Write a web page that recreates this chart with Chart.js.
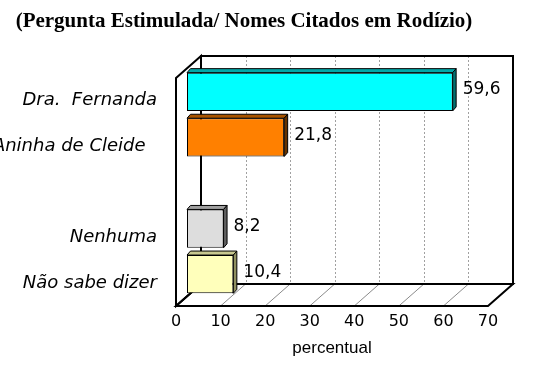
<!DOCTYPE html>
<html>
<head>
<meta charset="utf-8">
<script src="https://cdn.jsdelivr.net/npm/chart.js@4.4.0/dist/chart.umd.min.js"></script>
<style>
  html, body { margin: 0; padding: 0; background: #fff; }
  canvas { display: block; }
</style>
</head>
<body>
<canvas id="myChart" width="538" height="367"></canvas>
<script>
// dados
const categorias = ["Dra.  Fernanda", "Aninha de Cleide  ", "", "Nenhuma", "Não sabe dizer"];
const percentuais = [59.6, 21.8, null, 8.2, 10.4];
const rotulos = ["59,6", "21,8", "", "8,2", "10,4"];
const xMin = 0;
const xMax = 70;
const xPasso = 10;

// cores das faces
const corFrente = ["#00ffff", "#ff8000", "#ffffff", "#dddddd", "#ffffbb"];
const corTopo = ["#00a8a8", "#a85400", "#ffffff", "#a0a0a0", "#c8c890"];
const corLado = ["#007070", "#663300", "#ffffff", "#606060", "#909060"];

const fundo = { dx: 25, dy: -22 };   // profundidade das paredes
const barra = { dx: 11, dy: -9 };    // plano das barras
const face = { dx: 3.5, dy: 4 };     // espessura da barra

function linha(ctx, x1, y1, x2, y2) {
    ctx.beginPath();
    ctx.moveTo(x1, y1);
    ctx.lineTo(x2, y2);
    ctx.stroke();
}

function poligono(ctx, pts, cor) {
    ctx.beginPath();
    ctx.moveTo(pts[0][0], pts[0][1]);
    for (let i = 1; i < pts.length; i++) ctx.lineTo(pts[i][0], pts[i][1]);
    ctx.closePath();
    if (cor) {
        ctx.fillStyle = cor;
        ctx.fill();
    }
    ctx.stroke();
}

const caixa3d = {
    id: "caixa3d",
    beforeDatasetsDraw(chart) {
        const { ctx, chartArea: a, scales: { x } } = chart;
        const L = a.left, R = a.right, T = a.top, B = a.bottom;
        ctx.save();
        // linhas de grade no fundo
        ctx.strokeStyle = "#a0a0a0";
        ctx.lineWidth = 1;
        ctx.setLineDash([2, 2]);
        for (let v = xMin + xPasso; v < xMax; v += xPasso) {
            const px = Math.round(x.getPixelForValue(v) + fundo.dx) + 0.5;
            linha(ctx, px, T + fundo.dy, px, B + fundo.dy);
        }
        ctx.setLineDash([]);
        // linhas do piso
        ctx.strokeStyle = "#8a8a8a";
        for (let v = xMin + xPasso; v < xMax; v += xPasso) {
            const px = x.getPixelForValue(v);
            linha(ctx, px, B, px + fundo.dx, B + fundo.dy);
        }
        // moldura
        ctx.strokeStyle = "#000";
        ctx.lineWidth = 2;
        poligono(ctx, [[L, T], [L + fundo.dx, T + fundo.dy], [L + fundo.dx, B + fundo.dy], [L, B]]);
        poligono(ctx, [[L + fundo.dx, T + fundo.dy], [R + fundo.dx, T + fundo.dy], [R + fundo.dx, B + fundo.dy], [L + fundo.dx, B + fundo.dy]]);
        poligono(ctx, [[L, B], [R, B], [R + fundo.dx, B + fundo.dy], [L + fundo.dx, B + fundo.dy]]);
        ctx.restore();
    },
    beforeDatasetDraw(chart) {
        chart.ctx.save();
        chart.ctx.translate(barra.dx, barra.dy);
    },
    afterDatasetDraw(chart, args) {
        const ctx = chart.ctx;
        args.meta.data.forEach((bar, i) => {
            if (percentuais[i] == null) return;
            const { x, y, base, height } = bar.getProps(["x", "y", "base", "height"], true);
            const t = y - height / 2, b = y + height / 2;
            ctx.strokeStyle = "#000";
            ctx.lineWidth = 1;
            poligono(ctx, [[base, t], [base + face.dx, t - face.dy], [x + face.dx, t - face.dy], [x, t]], corTopo[i]);
            poligono(ctx, [[x, t], [x + face.dx, t - face.dy], [x + face.dx, b - face.dy], [x, b]], corLado[i]);
            ctx.fillStyle = "#000";
            ctx.font = "17px 'DejaVu Sans'";
            ctx.textAlign = "left";
            ctx.textBaseline = "middle";
            ctx.fillText(rotulos[i], x + face.dx + 6.5, y - 2);
        });
        chart.ctx.restore();
    },
};

const myChart = new Chart(document.getElementById("myChart"), {
    type: "bar",
    data: {
        labels: categorias,
        datasets: [
            {
                data: percentuais,
                backgroundColor: corFrente,
                borderColor: "#000",
                borderWidth: 1,
                borderSkipped: false,
                barPercentage: 0.84,
                categoryPercentage: 1,
            },
        ],
    },
    options: {
        indexAxis: "y",
        responsive: false,
        animation: false,
        layout: {
            padding: { left: 0, right: 50, top: 0, bottom: 0 },
        },
        plugins: {
            legend: { display: false },
            tooltip: { enabled: false },
            title: {
                display: true,
                text: "(Pergunta Estimulada/ Nomes Citados em Rodízio)",
                color: "#000",
                font: { family: "'Liberation Serif'", size: 21, weight: "bold", lineHeight: 1.2 },
                padding: { top: 9, bottom: 43.8 },
            },
        },
        scales: {
            x: {
                min: xMin,
                max: xMax,
                grid: { display: false, drawTicks: false },
                border: { display: false },
                ticks: {
                    stepSize: xPasso,
                    color: "#000",
                    padding: 6,
                    font: { family: "'DejaVu Sans'", size: 16 },
                },
                title: {
                    display: true,
                    text: "percentual",
                    color: "#000",
                    font: { family: "'Liberation Sans'", size: 17, lineHeight: 1.2 },
                    padding: { top: 4, bottom: 8 },
                },
                afterFit(scale) {
                    scale.height = 61;
                },
            },
            y: {
                grid: { display: false, drawTicks: false },
                border: { display: false },
                ticks: {
                    color: "#000",
                    padding: 19,
                    autoSkip: false,
                    font: { family: "'DejaVu Sans'", size: 18, style: "italic" },
                },
                afterFit(scale) {
                    scale.width = 176;
                },
            },
        },
    },
    plugins: [caixa3d],
});
</script>
</body>
</html>
